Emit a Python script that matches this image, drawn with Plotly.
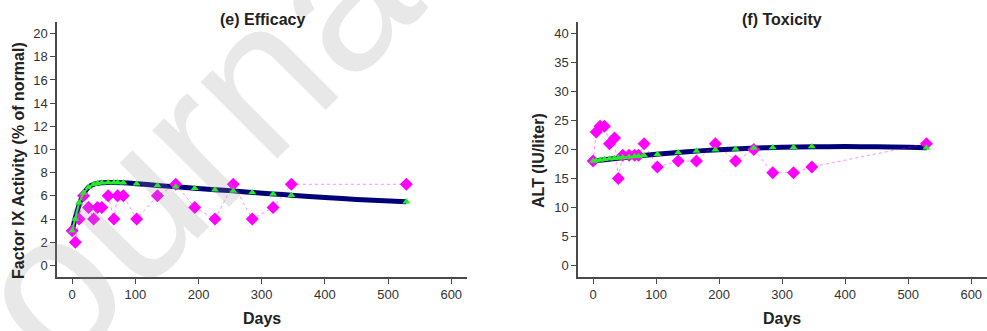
import plotly.graph_objects as go

# ---------------- data ----------------
days = [0, 5, 11, 18, 26, 34, 40, 47, 57, 66, 72, 81, 102, 135, 164, 194, 226, 255, 285, 318, 347, 529]

fix_obs = [3, 2, 4, 6, 5, 4, 5, 5, 6, 4, 6, 6, 4, 6, 7, 5, 4, 7, 4, 5, 7, 7]
fix_model = [3.0, 4.0, 5.4, 6.25, 6.75, 7.0, 7.08, 7.13, 7.15, 7.15, 7.15, 7.13,
             7.05, 6.9, 6.78, 6.65, 6.53, 6.43, 6.3, 6.17, 6.06, 5.5]

alt_obs = [18, 23, 24, 24, 21, 22, 15, 19, 19, 19, 19, 21, 17, 18, 18, 21, 18, 20, 16, 16, 17, 21]
alt_model = [18.0, 18.1, 18.2, 18.3, 18.4, 18.5, 18.55, 18.6, 18.7, 18.8, 18.85, 18.95,
             19.2, 19.5, 19.75, 19.95, 20.1, 20.25, 20.35, 20.4, 20.5, 20.3]

fix_curve_days = [0, 2, 4, 6, 8, 10, 12, 15, 18, 22, 26, 30, 35, 40, 47, 57, 66, 81, 102,
                  135, 164, 194, 226, 255, 285, 318, 347, 400, 450, 529]
fix_curve_vals = [3.0, 3.45, 3.9, 4.3, 4.7, 5.05, 5.4, 5.8, 6.2, 6.5, 6.75, 6.9, 7.02, 7.08,
                  7.13, 7.15, 7.15, 7.13, 7.05, 6.9, 6.78, 6.65, 6.53, 6.43, 6.3, 6.17, 6.06,
                  5.86, 5.69, 5.5]

alt_curve_days = [0, 50, 100, 150, 200, 250, 300, 350, 400, 450, 500, 529]
alt_curve_vals = [18.0, 18.62, 19.18, 19.62, 19.97, 20.22, 20.38, 20.47, 20.5, 20.48, 20.4, 20.32]

early_n = 12  # model points joined by a green line (first ~80 days)

x_ticks = [0, 100, 200, 300, 400, 500, 600]
fix_ticks = [0, 2, 4, 6, 8, 10, 12, 14, 16, 18, 20]
alt_ticks = [0, 5, 10, 15, 20, 25, 30, 35, 40]

titles = ["(e) Efficacy", "(f) Toxicity"]
y_titles = ["Factor IX Activity (% of normal)", "ALT (IU/liter)"]
x_title = "Days"
watermark = "Journal"

# ---------------- style ----------------
NAVY = "#000078"
MAG = "#ff00ff"
GREEN = "#22ee22"
AX = "#4a4a4a"
FONT = "Liberation Sans, Arial, sans-serif"

fig = go.Figure()

panels = [
    ("x", "y", fix_curve_days, fix_curve_vals, fix_obs, fix_model),
    ("x2", "y2", alt_curve_days, alt_curve_vals, alt_obs, alt_model),
]
for xa, ya, cd, cv, obs, mod in panels:
    fig.add_trace(go.Scatter(x=cd, y=cv, xaxis=xa, yaxis=ya, mode="lines",
                             line=dict(color=NAVY, width=5, shape="spline", smoothing=0.8),
                             hoverinfo="skip", showlegend=False))
    fig.add_trace(go.Scatter(x=days, y=obs, xaxis=xa, yaxis=ya, mode="lines+markers",
                             line=dict(color="rgba(255,0,255,0.45)", width=1, dash="dot"),
                             marker=dict(symbol="diamond", size=10, color=MAG),
                             showlegend=False))
    fig.add_trace(go.Scatter(x=days[:early_n], y=mod[:early_n], xaxis=xa, yaxis=ya,
                             mode="lines+markers",
                             line=dict(color=GREEN, width=2),
                             marker=dict(symbol="triangle-up", size=7, color=GREEN),
                             showlegend=False))
    fig.add_trace(go.Scatter(x=days[early_n:], y=mod[early_n:], xaxis=xa, yaxis=ya,
                             mode="markers",
                             marker=dict(symbol="triangle-up", size=7, color=GREEN),
                             showlegend=False))

axis_common = dict(showline=True, linecolor=AX, linewidth=1.5, ticks="outside", ticklen=5,
                   tickwidth=1, tickcolor=AX, showgrid=False, zeroline=False,
                   tickfont=dict(family=FONT, size=13, color="#333333"))

fig.update_layout(
    width=987, height=331,
    margin=dict(l=57, r=0, t=22, b=54),
    paper_bgcolor="white", plot_bgcolor="rgba(0,0,0,0)",
    xaxis=dict(domain=[0, 0.4409], range=[-24, 625], tickvals=x_ticks, anchor="y", **axis_common),
    yaxis=dict(domain=[0, 1], range=[-1, 21], tickvals=fix_ticks, anchor="x", **axis_common),
    xaxis2=dict(domain=[0.5602, 1.0], range=[-24, 625], tickvals=x_ticks, anchor="y2", **axis_common),
    yaxis2=dict(domain=[0, 1], range=[-2, 42], tickvals=alt_ticks, anchor="x2", **axis_common),
    showlegend=False,
)

def px2paper(px, py):
    return (px - 57) / 930.0, (277 - py) / 255.0

ann = []
# watermark (background stamp)
wx, wy = px2paper(172, 162)
ann.append(dict(text=watermark, x=wx, y=wy, xref="paper", yref="paper",
                showarrow=False, xanchor="center", yanchor="middle",
                textangle=-45, font=dict(family=FONT, size=205, color="rgba(150,150,150,0.22)")))
for i, cx in enumerate([262, 782]):
    tx, ty = px2paper(cx, 19)
    ann.append(dict(text="<b>%s</b>" % titles[i], x=tx, y=ty, xref="paper", yref="paper",
                    showarrow=False, xanchor="center", yanchor="middle",
                    font=dict(family=FONT, size=16, color="#222222")))
    dx, dy = px2paper(cx, 318)
    ann.append(dict(text="<b>%s</b>" % x_title, x=dx, y=dy, xref="paper", yref="paper",
                    showarrow=False, xanchor="center", yanchor="middle",
                    font=dict(family=FONT, size=16, color="#222222")))
for i, cx in enumerate([18, 538]):
    yx, yy = px2paper(cx, 161)
    ann.append(dict(text="<b>%s</b>" % y_titles[i], x=yx, y=yy, xref="paper", yref="paper",
                    showarrow=False, xanchor="center", yanchor="middle", textangle=-90,
                    font=dict(family=FONT, size=16, color="#222222")))
fig.update_layout(annotations=ann)

fig.write_html("out.html")
